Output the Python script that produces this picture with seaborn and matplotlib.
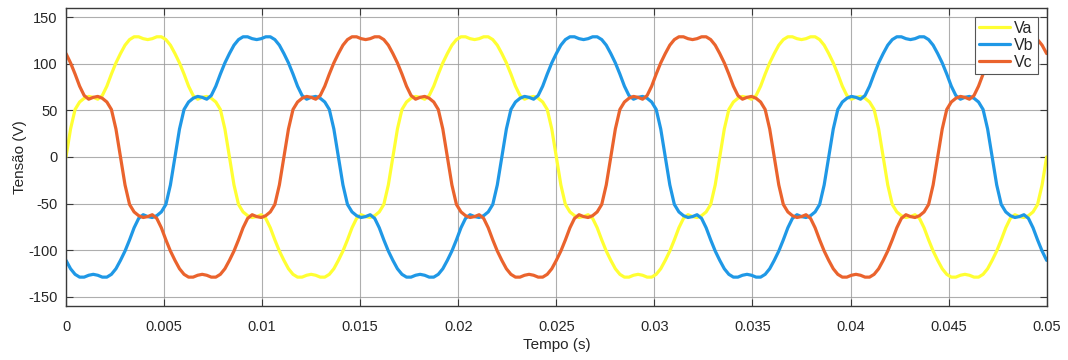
import numpy as np
import pandas as pd
import matplotlib
matplotlib.use("Agg")
import matplotlib.pyplot as plt
import seaborn as sns

# Sample instants over three 60 Hz cycles (5 electrical degrees apart)
tempo = np.linspace(0.0, 0.05, 217)

# Phase voltages in volts at each sample instant
va = [
    0, 30, 51, 59, 63, 65, 64, 62, 66, 76, 89, 101, 111, 120, 126, 129, 129, 127, 126, 127, 129, 129, 126, 120, 111, 101, 89, 76, 66, 62, 64, 65, 63, 59, 51, 30,
    0, -30, -51, -59, -63, -65, -64, -62, -66, -76, -89, -101, -111, -120, -126, -129, -129, -127, -126, -127, -129, -129, -126, -120, -111, -101, -89, -76, -66, -62, -64, -65, -63, -59, -51, -30,
    0, 30, 51, 59, 63, 65, 64, 62, 66, 76, 89, 101, 111, 120, 126, 129, 129, 127, 126, 127, 129, 129, 126, 120, 111, 101, 89, 76, 66, 62, 64, 65, 63, 59, 51, 30,
    0, -30, -51, -59, -63, -65, -64, -62, -66, -76, -89, -101, -111, -120, -126, -129, -129, -127, -126, -127, -129, -129, -126, -120, -111, -101, -89, -76, -66, -62, -64, -65, -63, -59, -51, -30,
    0, 30, 51, 59, 63, 65, 64, 62, 66, 76, 89, 101, 111, 120, 126, 129, 129, 127, 126, 127, 129, 129, 126, 120, 111, 101, 89, 76, 66, 62, 64, 65, 63, 59, 51, 30,
    0, -30, -51, -59, -63, -65, -64, -62, -66, -76, -89, -101, -111, -120, -126, -129, -129, -127, -126, -127, -129, -129, -126, -120, -111, -101, -89, -76, -66, -62, -64, -65, -63, -59, -51, -30,
    0,
]
vb = [
    -111, -120, -126, -129, -129, -127, -126, -127, -129, -129, -126, -120, -111, -101, -89, -76, -66, -62, -64, -65, -63, -59, -51, -30,
    0, 30, 51, 59, 63, 65, 64, 62, 66, 76, 89, 101, 111, 120, 126, 129, 129, 127, 126, 127, 129, 129, 126, 120, 111, 101, 89, 76, 66, 62, 64, 65, 63, 59, 51, 30,
    0, -30, -51, -59, -63, -65, -64, -62, -66, -76, -89, -101, -111, -120, -126, -129, -129, -127, -126, -127, -129, -129, -126, -120, -111, -101, -89, -76, -66, -62, -64, -65, -63, -59, -51, -30,
    0, 30, 51, 59, 63, 65, 64, 62, 66, 76, 89, 101, 111, 120, 126, 129, 129, 127, 126, 127, 129, 129, 126, 120, 111, 101, 89, 76, 66, 62, 64, 65, 63, 59, 51, 30,
    0, -30, -51, -59, -63, -65, -64, -62, -66, -76, -89, -101, -111, -120, -126, -129, -129, -127, -126, -127, -129, -129, -126, -120, -111, -101, -89, -76, -66, -62, -64, -65, -63, -59, -51, -30,
    0, 30, 51, 59, 63, 65, 64, 62, 66, 76, 89, 101, 111, 120, 126, 129, 129, 127, 126, 127, 129, 129, 126, 120, 111, 101, 89, 76, 66, 62, 64, 65, 63, 59, 51, 30,
    0, -30, -51, -59, -63, -65, -64, -62, -66, -76, -89, -101, -111,
]
vc = [
    111, 101, 89, 76, 66, 62, 64, 65, 63, 59, 51, 30,
    0, -30, -51, -59, -63, -65, -64, -62, -66, -76, -89, -101, -111, -120, -126, -129, -129, -127, -126, -127, -129, -129, -126, -120, -111, -101, -89, -76, -66, -62, -64, -65, -63, -59, -51, -30,
    0, 30, 51, 59, 63, 65, 64, 62, 66, 76, 89, 101, 111, 120, 126, 129, 129, 127, 126, 127, 129, 129, 126, 120, 111, 101, 89, 76, 66, 62, 64, 65, 63, 59, 51, 30,
    0, -30, -51, -59, -63, -65, -64, -62, -66, -76, -89, -101, -111, -120, -126, -129, -129, -127, -126, -127, -129, -129, -126, -120, -111, -101, -89, -76, -66, -62, -64, -65, -63, -59, -51, -30,
    0, 30, 51, 59, 63, 65, 64, 62, 66, 76, 89, 101, 111, 120, 126, 129, 129, 127, 126, 127, 129, 129, 126, 120, 111, 101, 89, 76, 66, 62, 64, 65, 63, 59, 51, 30,
    0, -30, -51, -59, -63, -65, -64, -62, -66, -76, -89, -101, -111, -120, -126, -129, -129, -127, -126, -127, -129, -129, -126, -120, -111, -101, -89, -76, -66, -62, -64, -65, -63, -59, -51, -30,
    0, 30, 51, 59, 63, 65, 64, 62, 66, 76, 89, 101, 111, 120, 126, 129, 129, 127, 126, 127, 129, 129, 126, 120, 111,
]

fases = ["Va", "Vb", "Vc"]
cores = {"Va": "#FFFF33", "Vb": "#1F98E6", "Vc": "#EA632D"}

x_ticks = [0, 0.005, 0.01, 0.015, 0.02, 0.025, 0.03, 0.035, 0.04, 0.045, 0.05]
x_tick_labels = ["0", "0.005", "0.01", "0.015", "0.02", "0.025", "0.03", "0.035", "0.04", "0.045", "0.05"]
y_ticks = [-150, -100, -50, 0, 50, 100, 150]

df = pd.DataFrame({
    "Tempo": np.concatenate([tempo, tempo, tempo]),
    "Tensao": np.concatenate([va, vb, vc]).astype(float),
    "Fase": np.repeat(fases, len(tempo)),
})

sns.set_theme(style="whitegrid")
plt.rcParams["font.family"] = ["Liberation Sans", "DejaVu Sans"]
plt.rcParams["axes.unicode_minus"] = False

fig = plt.figure(figsize=(10.68, 3.6), dpi=100)
ax = fig.add_axes([0.0618, 0.15, 0.9182, 0.828])

sns.lineplot(data=df, x="Tempo", y="Tensao", hue="Fase", hue_order=fases,
             palette=cores, linewidth=2.3, sort=False, estimator=None, ax=ax)

ax.set_xlim(0, 0.05)
ax.set_ylim(-160, 160)
ax.set_xticks(x_ticks)
ax.set_xticklabels(x_tick_labels)
ax.set_yticks(y_ticks)

ax.set_facecolor("white")
ax.grid(True, color="#9a9a9a", linewidth=0.8, alpha=0.8)
for s in ax.spines.values():
    s.set_visible(True)
    s.set_color("#3a3a3a")
    s.set_linewidth(1.0)

ax.tick_params(axis="both", which="major", direction="in", length=5, width=0.8,
               colors="#3a3a3a", labelcolor="#262626", labelsize=10.5,
               top=True, right=True, bottom=True, left=True)
ax.tick_params(axis="x", pad=10)
ax.tick_params(axis="y", pad=6)

ax.set_xlabel("Tempo (s)", fontsize=11, color="#262626", labelpad=3)
ax.set_ylabel("Tensão (V)", fontsize=11, color="#262626", labelpad=1)

leg = ax.legend(loc="upper right", fontsize=11.5, frameon=True, fancybox=False,
                borderaxespad=0.55, handlelength=1.9, handletextpad=0.3,
                borderpad=0.25, labelspacing=0.12, framealpha=1)
leg.get_frame().set_edgecolor("#555555")
leg.get_frame().set_linewidth(0.8)
for line in leg.get_lines():
    line.set_linewidth(2.3)

fig.savefig("out.png", dpi=100)
